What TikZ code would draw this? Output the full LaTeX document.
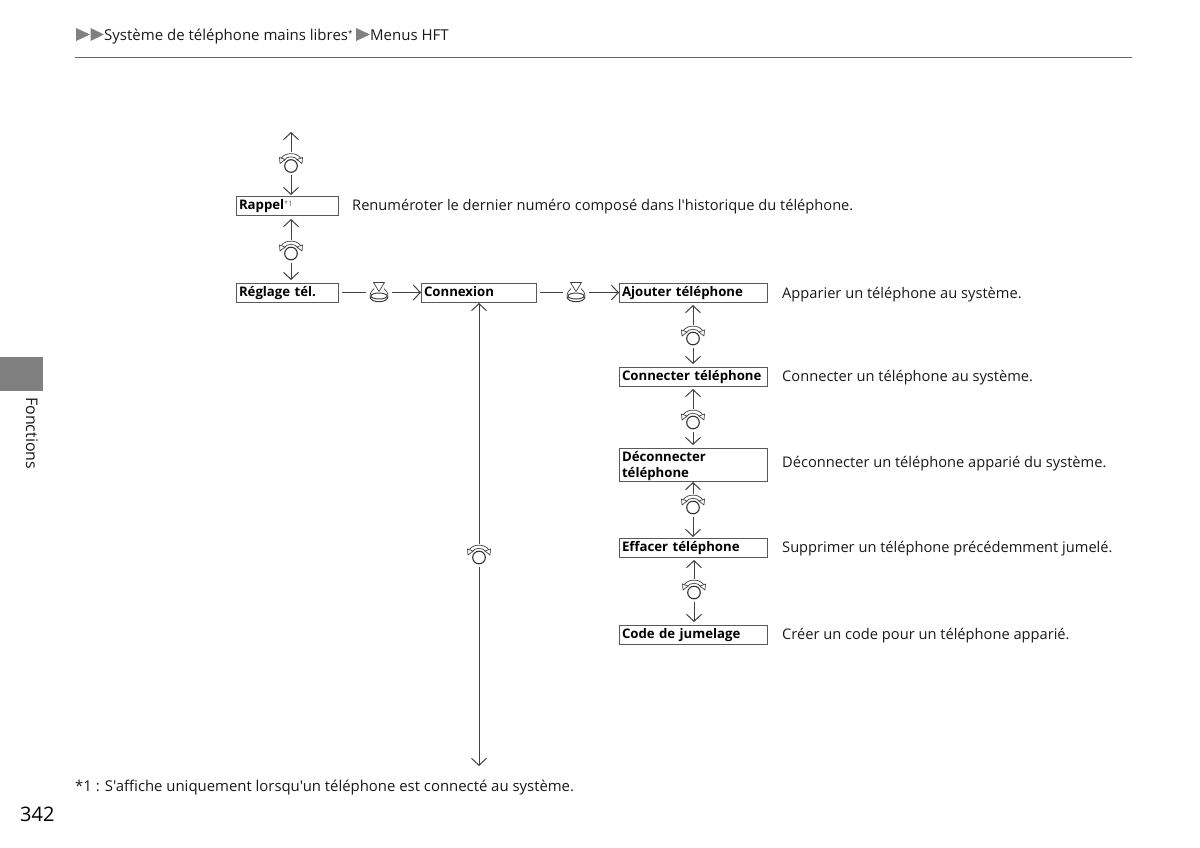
\documentclass[tikz,border=0pt]{standalone}
\usepackage{fontspec}
\setmainfont[Ligatures=TeXOff]{Open Sans}
\usetikzlibrary{arrows.meta}

\tikzset{
menuline/.style={line width=1pt,draw=black!75},
menuarrow/.style={menuline,-{Straight Barb[length=7pt,width=15pt]}},
iconbox/.style={minimum width=24pt,minimum height=23pt,inner sep=0pt,outer sep=0pt},
menubox/.style={draw=black!65,line width=0.9pt,align=left,inner xsep=3pt,inner ysep=0pt,outer sep=0pt,text height=11pt,text depth=3.4pt,font=\fontsize{13.2}{16}\selectfont\bfseries},
desc/.style={anchor=west,inner sep=0pt,font=\fontsize{14.65}{16}\selectfont,text=black!90},
headtext/.style={anchor=base west,inner sep=0pt,font=\fontsize{15}{16}\selectfont,text=black!90},
pics/dial/.style={code={
\draw[line width=1.1pt,draw=black!80] (0,2.5) circle (6.3);
\draw[line width=0.7pt,draw=black!75] (-10,-5) .. controls (-6,-11.5) and (6,-11.5) .. (10,-5);
\draw[line width=0.7pt,draw=black!75] (-7,-3) .. controls (-4,-8) and (4,-8) .. (7,-3);
\draw[line width=0.7pt,draw=black!75,fill=white,line join=round] (-11.5,-6) -- (-6,-4) -- (-11,0) -- cycle;
\draw[line width=0.7pt,draw=black!75,fill=white,line join=round] (11.5,-6) -- (6,-4) -- (11,0) -- cycle;
}},
pics/press/.style={code={
\draw[line width=0.7pt,draw=black!75,line join=round] (-5.5,-10) -- (5.5,-10) -- (0,-1) -- cycle;
\draw[line width=0.7pt,draw=black!75] (-5,-4) .. controls (-7,-2) and (-9,0) .. (-9,4);
\draw[line width=0.7pt,draw=black!75] (5,-4) .. controls (7,-2) and (9,0) .. (9,4);
\draw[line width=1pt,draw=black!75] (0,3.5) ellipse (8 and 3);
\draw[line width=1pt,draw=black!75] (-9,4) .. controls (-9,11) and (9,11) .. (9,4);
}}
}

\begin{document}
\begin{tikzpicture}[x=1pt,y=-1pt]
\useasboundingbox (0,0) rectangle (1200,847);

% header
\fill[black!50] (76,28) -- (90,34.5) -- (76,41) -- cycle;
\fill[black!50] (90.5,28) -- (104,34.5) -- (90.5,41) -- cycle;
\fill[black!50] (356,28) -- (370,34.5) -- (356,41) -- cycle;
\node[headtext] (title) at (104,40) {Système de téléphone mains libres\raisebox{4pt}{\fontsize{8}{8}\selectfont*}};
\node[headtext] (hft) at (370,40) {Menus HFT};
\draw[line width=1pt,black!60] (75,57) -- (1132,57);

% side tab
\fill[black!50] (0,357) rectangle (43,391);
\node[desc,rotate=-90,anchor=west,font=\fontsize{16}{18}\selectfont] (fonctions) at (32,397) {Fonctions};

% boxes
\node[menubox,text width=96pt,minimum height=19pt] (rappel) at (287,205.5) {Rappel\raisebox{3pt}{\normalfont\fontsize{7.5}{8}\selectfont\color{black!60}*1}};
\node[menubox,text width=96pt,minimum height=19pt] (reglage) at (287,292.5) {Réglage tél.};
\node[menubox,text width=109pt,minimum height=19pt] (connexion) at (478.5,292.5) {Connexion};
\node[menubox,text width=142pt,minimum height=19pt] (ajouter) at (693,292.5) {Ajouter téléphone};
\node[menubox,text width=142pt,minimum height=19pt] (connecter) at (693,376.5) {Connecter téléphone};
\node[menubox,text width=142pt,minimum height=33pt,text height=11pt,text depth=17.4pt] (deconnecter) at (693,464.5) {Déconnecter\\téléphone};
\node[menubox,text width=142pt,minimum height=19pt] (effacer) at (693,547.5) {Effacer téléphone};
\node[menubox,text width=142pt,minimum height=19pt] (code) at (693,634.5) {Code de jumelage};

% descriptions
\node[desc] (d1) at (352,207) {Renuméroter le dernier numéro composé dans l'historique du téléphone.};
\node[desc] (d2) at (782,295) {Apparier un téléphone au système.};
\node[desc] (d3) at (782,378) {Connecter un téléphone au système.};
\node[desc] (d4) at (782,464) {Déconnecter un téléphone apparié du système.};
\node[desc] (d5) at (782,549) {Supprimer un téléphone précédemment jumelé.};
\node[desc] (d6) at (782,636) {Créer un code pour un téléphone apparié.};
\node[desc,font=\fontsize{14.9}{16}\selectfont] (note) at (75,788) {*1 : S'affiche uniquement lorsqu'un téléphone est connecté au système.};
\node[anchor=west,inner sep=0pt,font=\fontsize{20}{22}\selectfont,text=black] (page) at (20,814.5) {342};

% icons
\node[iconbox] (top) at (291,163.5) {};
\node[iconbox] (mid) at (291,251) {};
\node[iconbox] (a) at (693,336) {};
\node[iconbox] (b) at (693,420) {};
\node[iconbox] (c) at (693,505) {};
\node[iconbox] (e) at (694,590) {};
\node[iconbox] (back) at (479,555) {};
\node[iconbox,minimum width=26pt] (p1) at (379,292.5) {};
\node[iconbox,minimum width=26pt] (p2) at (576,292.5) {};
\foreach \n in {top,mid,a,b,c,e,back} {\pic at (\n) {dial};}
\foreach \n in {p1,p2} {\pic at (\n) {press};}

\coordinate (up) at (291,132);
\coordinate (down) at (479,766);

% connectors
\draw[menuarrow] (top) -- (up);
\draw[menuarrow,shorten >=1pt] (top) -- (top |- rappel.north);
\draw[menuarrow,shorten >=4pt] (mid) -- (mid |- rappel.south);
\draw[menuarrow,shorten >=3pt] (mid) -- (mid |- reglage.north);
\draw[menuline,shorten <=4pt] (reglage) -- (p1);
\draw[menuarrow] (p1) -- (connexion);
\draw[menuline,shorten <=4pt] (connexion) -- (p2);
\draw[menuarrow] (p2) -- (ajouter);
\draw[menuarrow,shorten >=3pt] (a) -- (a |- ajouter.south);
\draw[menuarrow,shorten >=3pt] (a) -- (a |- connecter.north);
\draw[menuarrow,shorten >=3pt] (b) -- (b |- connecter.south);
\draw[menuarrow,shorten >=3pt] (b) -- (b |- deconnecter.north);
\draw[menuarrow,shorten >=1pt] (c) -- (c |- deconnecter.south);
\draw[menuarrow,shorten >=1pt] (c) -- (c |- effacer.north);
\draw[menuarrow,shorten >=3pt] (e) -- (e |- effacer.south);
\draw[menuarrow,shorten >=3pt] (e) -- (e |- code.north);
\draw[menuarrow,shorten >=1pt] (back) -- (back |- connexion.south);
\draw[menuarrow] (back) -- (down);

\end{tikzpicture}
\end{document}
